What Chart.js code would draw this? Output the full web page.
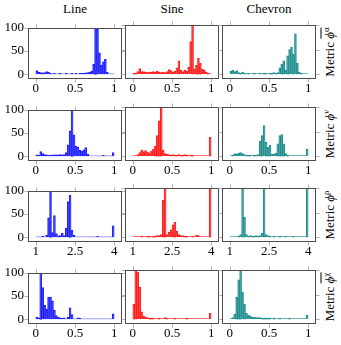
<!DOCTYPE html>
<html>
<head>
<meta charset="utf-8">
<script src="https://cdn.jsdelivr.net/npm/chart.js@4.4.0/dist/chart.umd.min.js"></script>
<style>
  body { margin: 0; background: #fff; }
  #wrap { position: relative; width: 341px; height: 345px; font-family: 'Liberation Serif', serif; color: #000; }
  #wrap canvas { position: absolute; }
  .title { position: absolute; top: 2px; font-size: 13px; line-height: 13px; transform: translateX(-50%); white-space: nowrap; }
  .rowlab { position: absolute; font-size: 13px; line-height: 13px; white-space: nowrap; transform: translate(-50%, -50%) rotate(-90deg); }
  .rowlab sup { font-size: 9px; vertical-align: 5px; line-height: 0; }
  .ov { border-top: 1px solid #000; }
</style>
</head>
<body>
<div id="wrap"></div>
<script>
// column / row names
const columns = ['Line', 'Sine', 'Chevron'];
const rowSup = ['α', 'v', 'ρ', 'χ'];
const rowBar = [true, false, false, true];

// tick labels
const unitTicks = [0, 0.5, 1];
const rhoTicks = [1, 2.5, 4];
const yTicks = [0, 50, 100];

// histogram range per row, 40 bins each
const unitRange = [0, 1];
const rhoRange = [1, 4];
const nBins = 40;

// metric alpha
const lineAlpha = [8,5,4,3,4,6,5,2,1,2,1,1,2,1,1,2,1,1,2,1,2,1,2,2,2,3,4,5,7,22,100,97,46,20,27,32,5,1,1,1];
const sineAlpha = [2,2,5,11,5,5,4,3,4,4,5,4,6,4,3,4,3,5,9,7,4,6,13,27,8,5,8,6,14,66,100,10,18,32,22,10,8,4,2,1];
const chevronAlpha = [6,8,5,7,3,2,4,2,1,2,1,1,2,1,1,2,1,2,2,1,2,2,3,2,3,13,20,27,8,37,50,55,40,82,22,4,2,1,1,1];

// metric v
const lineV = [3,2,10,6,4,3,2,2,3,3,3,3,4,3,4,8,25,55,100,46,22,20,13,11,14,19,5,1,1,1,1,1,1,1,2,1,1,1,1,8];
const sineV = [1,1,3,7,12,9,11,8,6,10,14,20,42,72,100,12,5,4,3,2,3,2,2,3,2,2,3,2,1,2,2,1,1,1,1,1,1,1,1,38];
const chevronV = [1,2,5,4,6,7,5,3,2,2,2,1,2,2,3,30,42,62,28,18,22,4,4,6,25,42,44,25,5,2,1,1,1,1,1,1,1,1,1,14];

// metric rho (range 1..4)
const lineRho = [1,1,1,2,1,5,42,100,10,47,8,3,4,9,4,20,77,90,15,5,1,1,1,1,1,1,1,1,1,1,1,2,1,1,1,1,1,1,1,25];
const sineRho = [1,1,1,1,2,1,1,2,2,1,2,2,3,3,5,75,100,5,10,15,25,30,12,5,3,3,2,2,1,1,2,1,4,3,1,1,1,1,1,100];
const chevronRho = [1,1,1,1,2,5,100,40,5,2,3,2,2,3,2,3,8,100,5,3,2,1,2,1,1,2,1,1,2,1,1,1,2,1,1,1,1,1,1,100];

// metric chi
const lineChi = [5,3,100,68,30,22,48,48,40,20,8,5,3,2,3,1,5,25,10,1,1,3,2,1,1,1,1,1,1,1,1,1,1,1,1,1,1,1,1,12];
const sineChi = [30,100,96,65,15,6,4,3,2,2,2,1,1,2,1,1,3,2,1,1,1,2,1,1,1,1,1,2,1,1,1,1,1,1,1,1,1,1,1,12];
const chevronChi = [1,3,10,45,80,100,55,30,12,8,6,4,4,3,3,3,2,2,2,2,2,1,2,1,1,2,1,1,1,1,2,1,1,1,1,1,1,1,1,8];

const grid = [
  [lineAlpha, sineAlpha, chevronAlpha],
  [lineV, sineV, chevronV],
  [lineRho, sineRho, chevronRho],
  [lineChi, sineChi, chevronChi]
];
const rowRange = [unitRange, unitRange, rhoRange, unitRange];
const rowTicks = [unitTicks, unitTicks, rhoTicks, unitTicks];

const fills = ['rgba(0,0,255,0.45)', 'rgba(255,0,0,0.45)', 'rgba(0,128,128,0.4)'];
const edges = ['rgba(0,0,255,0.85)', 'rgba(255,0,0,0.85)', 'rgba(0,128,128,0.85)'];

// layout of panels
const boxL = [28, 125, 222];
const boxT = [25, 107, 188, 270];
const boxW = 94, boxH = 54;
const padT = 9, padR = 6, padB = 20;

Chart.defaults.font.family = "'Liberation Serif', serif";
Chart.defaults.font.size = 13;
Chart.defaults.color = '#000';

const frame = {
  id: 'frame',
  afterDatasetsDraw(chart, args, opts) {
    const a = chart.chartArea, ctx = chart.ctx;
    const sx = chart.scales.x, sy = chart.scales.y;
    const l = Math.round(a.left) + 0.5, r = Math.round(a.right) - 0.5;
    const t = Math.round(a.top) + 0.5, b = Math.round(a.bottom) - 0.5;
    ctx.save();
    ctx.strokeStyle = '#b3b3b3';
    ctx.lineWidth = 1;
    ctx.beginPath();
    (opts.xt || []).forEach(v => {
      const px = Math.round(sx.getPixelForValue(v)) + 0.5;
      ctx.moveTo(px, t - 4); ctx.lineTo(px, t);
      ctx.moveTo(px, b); ctx.lineTo(px, b + 4);
    });
    yTicks.forEach(v => {
      const py = Math.round(sy.getPixelForValue(v)) + 0.5;
      ctx.moveTo(l - 4, py); ctx.lineTo(l, py);
      ctx.moveTo(r, py); ctx.lineTo(r + 4, py);
    });
    ctx.stroke();
    ctx.strokeStyle = '#4d4d4d';
    ctx.strokeRect(l, t, r - l, b - t);
    ctx.restore();
  }
};

const wrap = document.getElementById('wrap');

columns.forEach((name, c) => {
  const d = document.createElement('div');
  d.className = 'title';
  d.style.left = (boxL[c] + boxW / 2) + 'px';
  d.textContent = name;
  wrap.appendChild(d);
});

rowSup.forEach((s, r) => {
  const d = document.createElement('div');
  d.className = 'rowlab';
  d.style.left = '329px';
  d.style.top = (boxT[r] + boxH / 2) + 'px';
  const phi = '<i>ϕ</i><sup>' + (s === 'v' ? '<i>v</i>' : s) + '</sup>';
  d.innerHTML = 'Metric ' + (rowBar[r] ? '<span class="ov">' + phi + '</span>' : phi);
  wrap.appendChild(d);
});

grid.forEach((row, r) => {
  const range = rowRange[r];
  const step = (range[1] - range[0]) / nBins;
  const pad = (range[1] - range[0]) * 0.1;
  row.forEach((vals, c) => {
    const padL = c === 0 ? 28 : 5;
    const cv = document.createElement('canvas');
    const w = boxW + padL + padR, h = boxH + padT + padB;
    cv.width = w; cv.height = h;
    cv.style.left = (boxL[c] - padL) + 'px';
    cv.style.top = (boxT[r] - padT) + 'px';
    cv.style.width = w + 'px'; cv.style.height = h + 'px';
    wrap.appendChild(cv);

    const pts = vals.map((v, i) => ({ x: range[0] + (i + 0.5) * step, y: v }));
    new Chart(cv, {
      type: 'bar',
      data: {
        datasets: [{
          data: pts,
          backgroundColor: fills[c],
          borderColor: edges[c],
          borderWidth: 0.8,
          barPercentage: 1,
          categoryPercentage: 1
        }]
      },
      options: {
        responsive: false,
        animation: false,
        events: [],
        plugins: { legend: { display: false }, tooltip: { enabled: false }, frame: { xt: rowTicks[r] } },
        layout: { padding: { left: 0, right: padR, top: padT, bottom: 0 } },
        scales: {
          x: {
            type: 'linear',
            min: range[0] - pad,
            max: range[1] + pad,
            offset: false,
            grid: { display: false, drawTicks: false },
            border: { display: false },
            afterBuildTicks: s => { s.ticks = rowTicks[r].map(v => ({ value: v })); },
            afterFit: s => { s.height = padB; },
            ticks: { padding: 2, autoSkip: false, maxRotation: 0, callback: v => String(v) }
          },
          y: {
            min: -10,
            max: 100,
            display: c === 0,
            grid: { display: false, drawTicks: false },
            border: { display: false },
            afterBuildTicks: s => { s.ticks = yTicks.map(v => ({ value: v })); },
            afterFit: s => { s.width = padL; },
            ticks: { padding: 4 }
          }
        }
      },
      plugins: [frame]
    });
  });
});
</script>
</body>
</html>
